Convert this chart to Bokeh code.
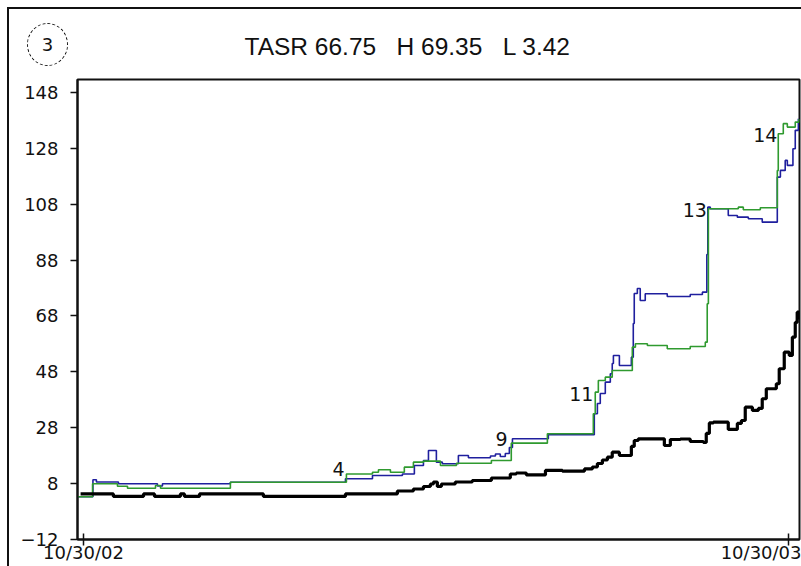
from bokeh.plotting import figure
from bokeh.models import FixedTicker, Div
from bokeh.layouts import column
from bokeh.core.properties import value
from bokeh.embed import file_html
from bokeh.resources import INLINE

# ---- data (x = days after 10/30/02) ----
black_days = [-1.5, 15.5, 31.1, 36.8, 50.2, 52.3, 60.1, 93.2, 135.7, 162.6, 170.9, 176.1,
              179.7, 181.3, 183.3, 185.4, 192.6, 201.4, 211.3, 221.1, 224.2, 229.4, 239.3,
              248.1, 259.5, 263.6, 266.2, 268.8, 271.4, 273.9, 277.6, 283.8, 285.3, 287.4,
              300.9, 304.0, 309.2, 314.3, 321.1, 322.6, 324.2, 326.3, 334.0, 338.7, 340.8,
              342.8, 346.5, 349.6, 351.6, 353.7, 358.9, 360.4, 363.0, 365.6, 367.2, 368.7,
              369.7, 370.6]
black_vals = [4.3, 3.42, 4.3, 3.42, 4.3, 3.42, 4.3, 3.42, 4.3, 5.36, 6.07, 6.97,
              7.86, 8.58, 6.97, 7.86, 8.58, 9.12, 10.01, 11.44, 11.80, 11.09, 12.70,
              12.45, 13.24, 13.95, 15.2, 16.45, 17.46, 19.25, 18.06, 21.29, 23.43, 24.04,
              21.64, 23.79, 23.97, 23.07, 22.72, 25.94, 29.70, 29.98, 27.37, 29.52, 30.59,
              35.35, 34.17, 34.89, 38.36, 41.94, 43.73, 49.09, 55.04, 53.86, 60.41, 65.67,
              69.35, 66.75]

blue_days = [-3.1, 4.9, 6.7, 18.1, 38.3, 40.9, 76.1, 135.7, 149.7, 165.2, 171.4, 176.1,
             178.7, 182.8, 185.9, 194.2, 199.4, 210.8, 213.4, 215.9, 218.5, 220.6, 222.2,
             240.8, 264.6, 266.2, 267.7, 270.3, 272.9, 273.9, 274.5, 277.6, 283.8, 284.8,
             285.3, 286.9, 288.4, 291.0, 302.4, 314.3, 320.6, 322.9, 323.4, 324.7, 334.0,
             338.7, 344.4, 351.6, 359.4, 361.0, 363.5, 364.6, 367.5, 368.7, 370.3]
blue_vals = [3.3, 9.37, 8.58, 7.94, 7.15, 7.94, 8.5, 9.72, 10.9, 11.44, 14.5, 16.27,
             19.85, 15.67, 15.1, 18.06, 17.24, 17.88, 18.6, 17.7, 18.78, 20.93, 24.04,
             25.47, 32.99, 36.68, 40.25, 44.3, 47.3, 51.0, 53.86, 50.28, 53.25, 65.3,
             76.05, 77.84, 73.54, 75.94, 74.97, 75.69, 76.51, 90.0, 106.93, 106.36, 103.96,
             103.35, 102.78, 101.56, 117.67, 120.07, 123.65, 121.86, 127.84, 134.4, 138.6]

green_days = [-3.1, 4.7, 17.6, 22.8, 37.3, 39.9, 76.1, 136.2, 149.7, 152.8, 159.0, 166.2,
              170.9, 176.1, 184.9, 193.2, 211.3, 221.6, 240.3, 264.1, 265.1, 266.7, 270.3,
              273.9, 284.3, 285.9, 292.1, 302.4, 314.3, 322.1, 323.1, 323.7, 339.2, 341.8,
              350.6, 359.4, 359.9, 362.5, 364.6, 368.7, 370.6]
green_vals = [3.3, 7.94, 7.08, 6.36, 7.33, 6.36, 8.5, 11.44, 12.09, 12.95, 12.09, 13.88,
              15.67, 16.03, 14.49, 15.31, 16.27, 22.47, 25.83, 32.99, 40.72, 44.9, 46.1,
              48.49, 56.83, 58.04, 57.43, 56.25, 57.08, 58.62, 72.36, 106.36, 106.93, 106.0,
              106.72, 120.0, 133.2, 136.8, 135.56, 137.35, 138.5]

note_text = ["4", "9", "11", "13", "14"]
note_days = [132.1, 216.5, 257.9, 316.7, 353.2]
note_vals = [13.2, 24.0, 40.1, 105.9, 132.6]

y_ticks = [-12, 8, 28, 48, 68, 88, 108, 128, 148]
x_ticks = [0, 365]
x_tick_labels = ["10/30/02", "10/30/03"]
title_text = "TASR 66.75\u00a0\u00a0 H 69.35\u00a0\u00a0 L 3.42"
badge_text = "3"

# ---- figure ----
p = figure(width=801, height=566, output_backend="svg", toolbar_location=None,
           x_range=(-3.1, 370.9), y_range=(-12, 152.6),
           min_border_left=77, min_border_right=2, min_border_top=79, min_border_bottom=27)
p.border_fill_color = None
p.background_fill_color = "white"
p.styles = {
    "background": "linear-gradient(#111,#111) 7px 7px / 2px 100% no-repeat, "
                  "linear-gradient(#111,#111) 7px 7px / 100% 2px no-repeat, white"
}

p.title.text = title_text
p.title.align = "left"
p.title.offset = 167
p.title.standoff = 40
p.title.text_font = "Liberation Sans"
p.title.text_font_size = "24.5px"
p.title.text_font_style = "normal"
p.title.text_color = "#111111"

p.xgrid.visible = False
p.ygrid.visible = False
p.outline_line_color = "#111111"
p.outline_line_width = 2
p.outline_line_alpha = 1

for ax in (p.xaxis[0], p.yaxis[0]):
    ax.axis_line_color = "#111111"
    ax.axis_line_width = 2
    ax.major_tick_line_color = "#111111"
    ax.major_tick_line_width = 1.5
    ax.minor_tick_line_color = None
    ax.major_label_text_font = "DejaVu Sans"
    ax.major_label_text_font_size = "18px"
    ax.major_label_text_color = "#111111"

p.yaxis.ticker = FixedTicker(ticks=y_ticks)
p.yaxis.major_tick_in = 0
p.yaxis.major_tick_out = 7
p.yaxis.major_label_standoff = 12

p.xaxis.ticker = FixedTicker(ticks=x_ticks)
p.xaxis.major_label_overrides = {t: s for t, s in zip(x_ticks, x_tick_labels)}
p.xaxis.major_tick_in = 6
p.xaxis.major_tick_out = 6
p.xaxis.major_label_standoff = -4

p.step(blue_days, blue_vals, mode="after", line_color="#1f1f9e", line_width=1.6)
p.step(green_days, green_vals, mode="after", line_color="#2f9a2f", line_width=1.6)
p.step(black_days, black_vals, mode="after", line_color="#000000", line_width=3.2)

p.text(x=note_days, y=note_vals, text=note_text, text_font=value("DejaVu Sans"),
       text_font_size="19px", text_align="center", text_baseline="middle",
       text_color="#111111")

# circled panel number, overlaid in the top-left corner
badge = Div(text=badge_text, width=41, height=43, styles={
    "position": "absolute", "left": "22px", "top": "18px",
    "width": "41px", "height": "43px", "box-sizing": "border-box",
    "border": "1.3px dashed #111", "border-radius": "50%",
    "display": "flex", "align-items": "center", "justify-content": "center",
    "font-family": "DejaVu Sans", "font-size": "18px", "color": "#111",
    "line-height": "1", "z-index": "5",
})

layout = column(p, badge)
open("out.html", "w").write(file_html(layout, INLINE))
